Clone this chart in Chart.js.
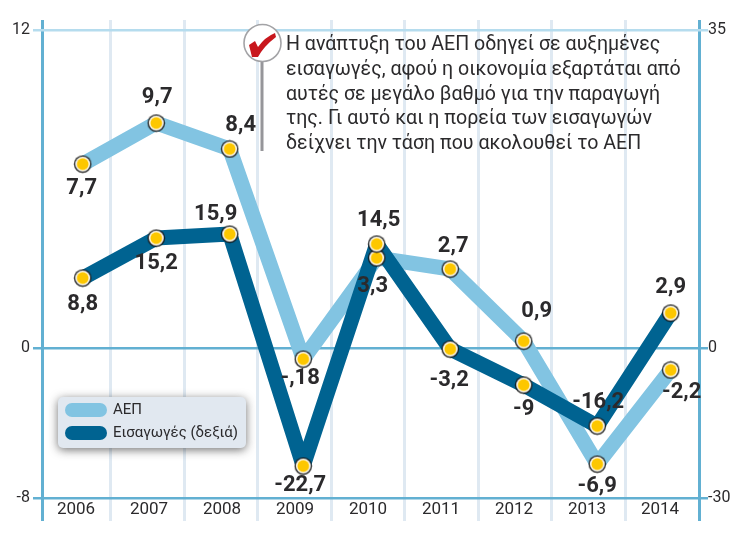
<!DOCTYPE html>
<html lang="el"><head><meta charset="utf-8">
<style>html,body{margin:0;padding:0;background:#fff}canvas{display:block}#w{width:731px;height:538px}</style>
<script src="https://cdn.jsdelivr.net/npm/chart.js@4"></script>
</head><body><div id="w"><canvas id="c" width="731" height="538"></canvas></div>
<script>
// ---- data ----
const years = ['2006','2007','2008','2009','2010','2011','2012','2013','2014'];
const aepName = 'ΑΕΠ';
const impName = 'Εισαγωγές (δεξιά)';
// heights as drawn in the reference (the published drawing does not follow its labels exactly)
const aepValues = [6.94, 8.49, 7.51, -0.59, 3.40, 2.98, 0.26, -6.19, -1.17];
const impValues = [7.70, 12.10, 12.54, -23.6, 11.44, -0.20, -7.40, -15.6, 3.85];
const aepLabels = ['7,7','9,7','8,4','-,18','3,3','2,7','0,9','-6,9','-2,2'];
const impLabels = ['8,8','15,2','15,9','-22,7','14,5','-3,2','-9','-16,2','2,9'];
const leftTicks = [12, 0, -8];
const rightTicks = [35, 0, -30];
const note = ['Η ανάπτυξη του ΑΕΠ οδηγεί σε αυξημένες',
  'εισαγωγές, αφού η οικονομία εξαρτάται από',
  'αυτές σε μεγάλο βαθμό για την παραγωγή',
  'της. Γι αυτό και η πορεία των εισαγωγών',
  'δείχνει την τάση που ακολουθεί το ΑΕΠ'];

// ---- style ----
const FONT = 'Roboto';
const INK = '#2b2a2c', AXIS = '#62b0d2', SEP = '#dfe9f2', LIGHT = '#82c4e2', DARK = '#006391';

// Axis whose positive and negative halves have different unit lengths, as in the reference.
class SplitScale extends Chart.LinearScale {
  getPixelForValue(v) {
    const zf = this.options.zeroFraction;
    const d = v >= 0 ? zf + (1 - zf) * v / this.max : zf * (1 - v / this.min);
    return this.getPixelForDecimal(d);
  }
  getValueForPixel(p) {
    const zf = this.options.zeroFraction, d = this.getDecimalForPixel(p);
    return d >= zf ? (d - zf) / (1 - zf) * this.max : (1 - d / zf) * this.min;
  }
}
SplitScale.id = 'split';
SplitScale.defaults = Chart.LinearScale.defaults;
Chart.register(SplitScale);

function marker() {
  const c = document.createElement('canvas'); c.width = c.height = 19;
  const g = c.getContext('2d');
  g.beginPath(); g.arc(9.5, 9.5, 8.7, 0, 7); g.fillStyle = '#141412'; g.fill();
  g.beginPath(); g.arc(9.5, 9.5, 7.5, 0, 7); g.fillStyle = '#fff'; g.fill();
  g.beginPath(); g.arc(9.5, 9.5, 5.9, 0, 7); g.fillStyle = '#fdc700'; g.fill();
  return c;
}
const dot = marker();
const pts = a => a.map((y, i) => ({ x: i, y }));

const aepOffsets = [[-1,24],[1,-26],[11,-23],[-3,19],[-4,29],[3,-23],[13,-30],[0,22],[11,23]];
const impOffsets = [[0,26],[0,25],[-14,-20],[-3,19],[2,-24],[-1,31],[0,24],[1,-24],[0,-26]];

const decor = {
  id: 'decor',
  afterDatasetsDraw(ch) {
    const g = ch.ctx;
    g.save();
    // value labels
    g.font = '700 22px ' + FONT; g.fillStyle = INK; g.textAlign = 'center'; g.textBaseline = 'middle';
    [[0, aepLabels, aepOffsets], [1, impLabels, impOffsets]].forEach(([ds, labs, off]) => {
      ch.getDatasetMeta(ds).data.forEach((p, i) => g.fillText(labs[i], p.x + off[i][0], p.y + off[i][1]));
    });
    // note
    g.font = '19.6px ' + FONT; g.textAlign = 'left'; g.textBaseline = 'alphabetic';
    note.forEach((t, i) => g.fillText(t, 286, 50 + i * 24.75));
    // pin
    g.fillStyle = '#96969a'; g.fillRect(260.5, 60, 3, 91);
    g.beginPath(); g.arc(262.5, 43, 18.5, 0, 7); g.fillStyle = '#fff'; g.fill();
    g.lineWidth = 1.6; g.strokeStyle = '#a3a3a6'; g.stroke();
    g.beginPath(); g.moveTo(249, 45); g.lineTo(255, 41); g.lineTo(258, 47);
    g.quadraticCurveTo(265, 37, 275, 33); g.lineTo(276, 37);
    g.quadraticCurveTo(264, 46, 258, 57); g.lineTo(252, 57); g.closePath();
    g.fillStyle = '#c8171d'; g.fill();
    // legend
    g.save();
    g.shadowColor = 'rgba(40,40,40,.65)'; g.shadowBlur = 10; g.shadowOffsetX = 0; g.shadowOffsetY = 2;
    g.beginPath(); g.roundRect(58, 397, 188, 51, 5); g.fillStyle = '#e1e8f0'; g.fill();
    g.restore();
    [[LIGHT, 0, 410], [DARK, 1, 433]].forEach(([col, i, y]) => {
      g.beginPath(); g.roundRect(65, y - 7, 42, 14, 7); g.fillStyle = col; g.fill();
      g.fillStyle = INK; g.font = '15px ' + FONT; g.textBaseline = 'middle';
      g.fillText(ch.data.datasets[i].label, 113, y + 0.5);
    });
    g.restore();
  }
};

// x axis: index positions of the yearly points; separators fall at a fixed offset after each point,
// the year captions sit in the middle of the cells.
const X_MIN = -0.5537, X_MAX = 8.385;
const xTicks = () => {
  const t = [{ value: X_MIN, kind: 'end' }, { value: X_MAX, kind: 'end' }];
  years.forEach((y, i) => {
    t.push({ value: i * 73 / 73.5 - 0.091, year: y });
    if (i < years.length - 1) t.push({ value: i + 0.38, kind: 'sep' });
  });
  return t.sort((a, b) => a.value - b.value);
};
const tk = c => c.tick || {};

new Chart(document.getElementById('c'), {
  type: 'line',
  data: { datasets: [
    { label: aepName, data: pts(aepValues), yAxisID: 'y', borderColor: 'transparent', borderWidth: 0, showLine: false, pointStyle: dot, pointRadius: 9, order: 2 },
    { label: impName, data: pts(impValues), yAxisID: 'y2', borderColor: 'transparent', borderWidth: 0, showLine: false, pointStyle: dot, pointRadius: 9, order: 1 },
    { label: aepName, data: pts(aepValues), yAxisID: 'y', borderColor: LIGHT, backgroundColor: LIGHT, borderWidth: 15, borderJoinStyle: 'round', tension: 0, pointRadius: 0, order: 4 },
    { label: impName, data: pts(impValues), yAxisID: 'y2', borderColor: DARK, backgroundColor: DARK, borderWidth: 15, borderJoinStyle: 'round', tension: 0, pointRadius: 0, order: 3 }
  ]},
  plugins: [decor],
  options: {
    responsive: false, animation: false, devicePixelRatio: 1,
    layout: { padding: { top: 20, left: 0, right: 0, bottom: 0 }, autoPadding: false },
    plugins: { legend: { display: false }, tooltip: { enabled: false } },
    scales: {
      x: { type: 'linear', position: 'bottom', min: X_MIN, max: X_MAX,
        afterBuildTicks: s => { s.ticks = xTicks(); },
        ticks: { padding: -21, maxRotation: 0, autoSkip: false, color: INK, font: { family: FONT, size: 17 },
          callback: (v, i, t) => t[i].year || '' },
        border: { display: false },
        grid: { tickLength: 23, lineWidth: 3,
          color: c => tk(c).year ? 'transparent' : tk(c).kind === 'end' ? AXIS : SEP },
        afterFit: s => { s.height = 40; } },
      y: { type: 'split', position: 'left', min: -8, max: 12.377, zeroFraction: 0.3138,
        afterBuildTicks: s => { s.ticks = leftTicks.map(value => ({ value })); },
        ticks: { color: INK, padding: 3, font: { family: FONT, size: 16 } },
        grid: { tickLength: 9, lineWidth: 2.5, color: c => tk(c).value === 12 ? '#b5dcee' : AXIS },
        border: { display: false },
        afterFit: s => { s.width = 42; } },
      y2: { type: 'split', position: 'right', min: -30, max: 36.1, zeroFraction: 0.3138,
        afterBuildTicks: s => { s.ticks = rightTicks.map(value => ({ value })); },
        ticks: { color: INK, padding: 0, font: { family: FONT, size: 16 } },
        grid: { tickLength: 9, lineWidth: 2.5, drawOnChartArea: false, color: c => tk(c).value === 35 ? '#b5dcee' : AXIS },
        border: { display: false },
        afterFit: s => { s.width = 32; } }
    }
  }
});
</script></body></html>
